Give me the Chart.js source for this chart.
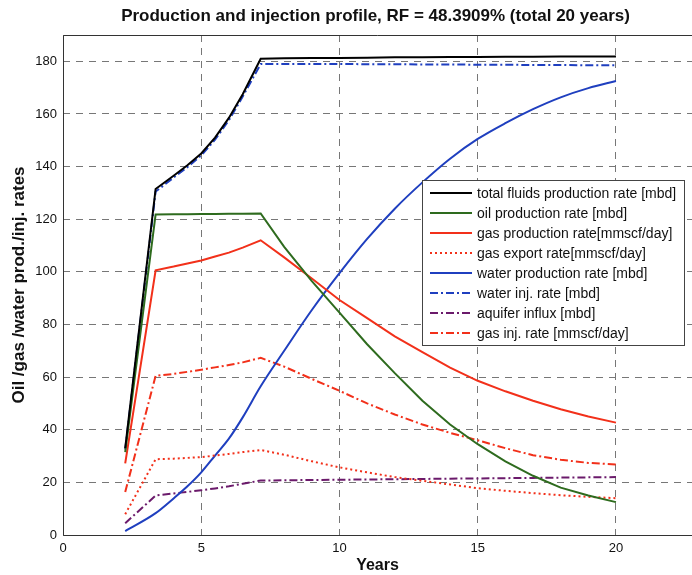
<!DOCTYPE html>
<html>
<head>
<meta charset="utf-8">
<script src="https://cdn.jsdelivr.net/npm/chart.js@4.4.0/dist/chart.umd.min.js"></script>
<style>
  body { margin: 0; background: #fff; }
  canvas { display: block; }
</style>
</head>
<body>
<canvas id="profileChart" width="692" height="575"></canvas>
<script>
// time axis (years) shared by every profile
const years = [2.25, 3.35, 4, 4.5, 5, 5.5, 6, 6.5, 7.15, 8, 9, 10, 11, 12, 13, 14, 15, 16, 17, 18, 19, 20];

// rates per year
const totalFluids = [33, 131.5, 136.5, 140.5, 145, 151, 158.5, 167.5, 181, 181.2, 181.3, 181.3, 181.4, 181.5, 181.5, 181.6, 181.6, 181.7, 181.7, 181.8, 181.8, 181.8];
const oilRate     = [31.5, 121.8, 121.9, 121.9, 122, 122, 122.1, 122.1, 122.2, 109.5, 96.5, 84.5, 72.5, 61.5, 51, 42, 34.5, 28, 22.5, 18, 15, 12.5];
const gasRate     = [27.2, 100.6, 102, 103.2, 104.3, 105.8, 107.3, 109.2, 112, 105.5, 97.5, 89.3, 82.4, 75.5, 69.5, 63.6, 58.6, 54.6, 51, 47.8, 45, 42.7];
const gasExport   = [7.9, 28.8, 29, 29.3, 29.6, 30.2, 30.8, 31.5, 32.3, 30.5, 28, 25.7, 23.8, 22, 20.6, 19.2, 17.8, 16.8, 15.9, 15.1, 14.5, 14];
const waterRate   = [1.5, 8.3, 13.9, 18.5, 23.8, 30.2, 36.6, 44.7, 56.5, 70, 85.5, 99.5, 112.5, 124, 134, 143, 150.5, 156.5, 161.8, 166.3, 169.8, 172.5];
const waterInj    = [32.5, 130.5, 135.8, 139.8, 144.2, 150.2, 157.6, 166.6, 179, 179, 179, 179, 178.9, 178.9, 178.8, 178.8, 178.7, 178.7, 178.6, 178.6, 178.5, 178.5];
const aquiferIn   = [4.5, 15, 15.8, 16.4, 17, 17.7, 18.5, 19.5, 20.7, 20.8, 20.9, 21, 21.1, 21.2, 21.3, 21.4, 21.5, 21.6, 21.7, 21.8, 21.9, 22];
const gasInj      = [16.3, 60.5, 61.2, 62, 62.8, 63.7, 64.6, 65.6, 67.3, 64, 59.3, 54.8, 50, 45.8, 42, 38.8, 36, 33, 30.3, 28.6, 27.4, 26.8];

const xTicks = [0, 5, 10, 15, 20];
const yTicks = [0, 20, 40, 60, 80, 100, 120, 140, 160, 180];

const FONT = "'Liberation Sans', Arial, Helvetica, sans-serif";
const DOT = [2, 3];
const DASHDOT = [8, 3, 2, 3];

function series(values) {
  return years.map((x, i) => ({ x: x, y: values[i] }));
}

function line(label, values, color, dash, smooth) {
  return {
    label: label,
    data: series(values),
    borderColor: color,
    borderWidth: 2,
    borderDash: dash || [],
    pointRadius: 0,
    fill: false,
    cubicInterpolationMode: smooth ? "monotone" : "default",
    tension: 0,
  };
}

// axes frame + title
const framePlugin = {
  id: "frame",
  afterDraw(chart) {
    const { ctx, chartArea: a } = chart;
    ctx.save();
    ctx.strokeStyle = "#333";
    ctx.lineWidth = 1;
    ctx.beginPath();
    ctx.moveTo(a.right, a.top + 0.5);
    ctx.lineTo(a.left + 0.5, a.top + 0.5);
    ctx.lineTo(a.left + 0.5, a.bottom + 0.5);
    ctx.lineTo(a.right, a.bottom + 0.5);
    ctx.stroke();

    ctx.font = `bold 17px ${FONT}`;
    ctx.fillStyle = "#111";
    ctx.textAlign = "center";
    ctx.textBaseline = "middle";
    ctx.fillText("Production and injection profile, RF = 48.3909% (total 20 years)", (a.left + a.right) / 2 - 2, 16);
    ctx.restore();
  },
};

// boxed legend inside the plot
const legendBox = {
  id: "legendBox",
  afterDraw(chart) {
    const ctx = chart.ctx;
    const x0 = 422, y0 = 180, w = 262, h = 165;
    ctx.save();
    ctx.fillStyle = "#fff";
    ctx.fillRect(x0, y0, w, h);
    ctx.strokeStyle = "#444";
    ctx.lineWidth = 1;
    ctx.strokeRect(x0 + 0.5, y0 + 0.5, w, h);
    ctx.font = `14px ${FONT}`;
    ctx.textBaseline = "middle";
    chart.data.datasets.forEach((ds, i) => {
      const y = y0 + 13 + i * 20;
      ctx.strokeStyle = ds.borderColor;
      ctx.lineWidth = 2;
      ctx.setLineDash(ds.borderDash);
      ctx.beginPath();
      ctx.moveTo(x0 + 8, y);
      ctx.lineTo(x0 + 50, y);
      ctx.stroke();
      ctx.setLineDash([]);
      ctx.fillStyle = "#111";
      ctx.fillText(ds.label, x0 + 55, y + 1);
    });
    ctx.restore();
  },
};

new Chart(document.getElementById("profileChart"), {
  type: "line",
  data: {
    datasets: [
      line("total fluids production rate [mbd]", totalFluids, "#000000"),
      line("oil production rate [mbd]", oilRate, "#2e6b1e"),
      line("gas production rate[mmscf/day]", gasRate, "#f2301a"),
      line("gas export rate[mmscf/day]", gasExport, "#f2301a", DOT),
      line("water production rate [mbd]", waterRate, "#1f3fbf", null, true),
      line("water inj. rate [mbd]", waterInj, "#1f3fbf", DASHDOT),
      line("aquifer influx [mbd]", aquiferIn, "#6b1a6b", DASHDOT),
      line("gas inj. rate [mmscf/day]", gasInj, "#f2301a", DASHDOT),
    ],
  },
  options: {
    responsive: false,
    animation: false,
    layout: { padding: { top: 35, right: 0, left: 0, bottom: 0 } },
    plugins: { legend: { display: false }, tooltip: { enabled: false } },
    scales: {
      x: {
        type: "linear",
        min: 0,
        max: 22.75,
        afterBuildTicks: (s) => { s.ticks = xTicks.map((v) => ({ value: v })); },
        afterFit: (s) => { s.height = 40; },
        grid: { color: "#777", lineWidth: 1, drawTicks: false },
        border: { display: false, dash: [7, 6] },
        ticks: { color: "#111", font: { family: FONT, size: 13 }, padding: 6, maxRotation: 0 },
        title: { display: true, text: "Years", color: "#111", font: { family: FONT, size: 16, weight: "bold" }, padding: { top: 0, bottom: 0 } },
      },
      y: {
        min: 0,
        max: 190,
        afterBuildTicks: (s) => { s.ticks = yTicks.map((v) => ({ value: v })); },
        afterFit: (s) => { s.width = 63; },
        grid: { color: "#777", lineWidth: 1, drawTicks: false },
        border: { display: false, dash: [7, 6] },
        ticks: { color: "#111", font: { family: FONT, size: 13 }, padding: 6 },
        title: { display: true, text: "Oil /gas /water prod./inj. rates", color: "#111", font: { family: FONT, size: 17, weight: "bold" }, padding: { top: 9, bottom: 0 } },
      },
    },
  },
  plugins: [framePlugin, legendBox],
});
</script>
</body>
</html>
